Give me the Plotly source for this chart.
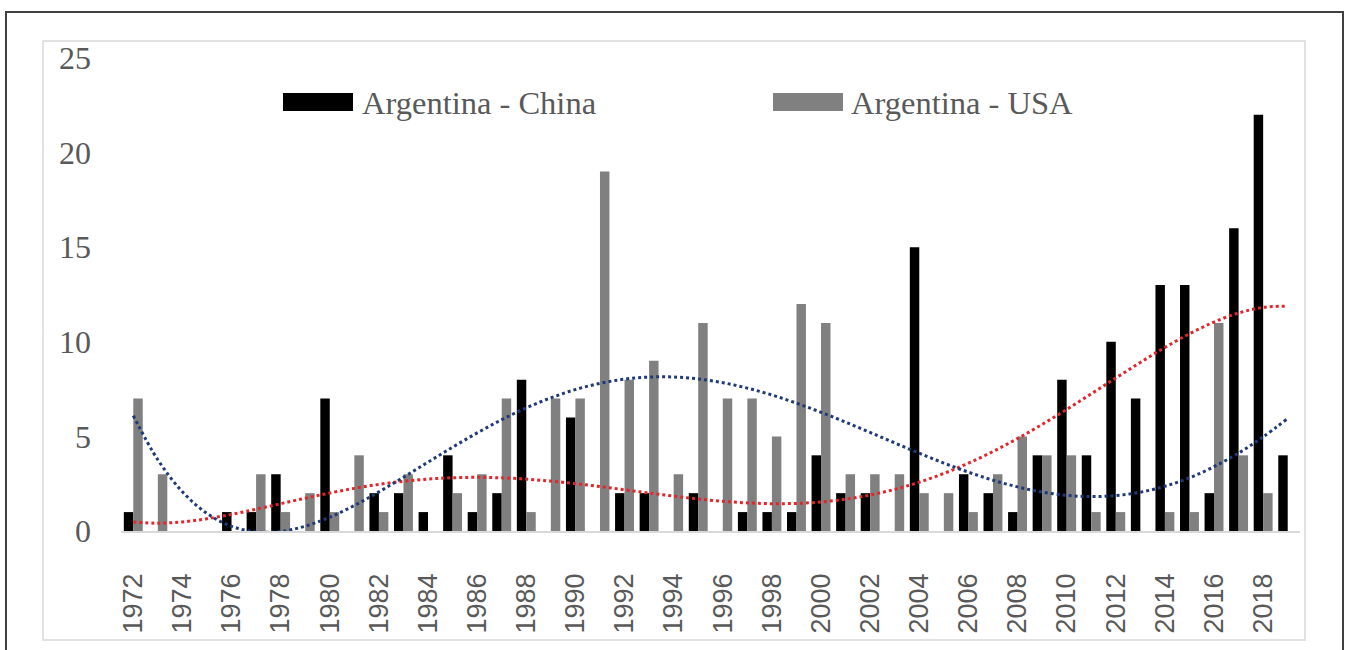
import numpy as np
import plotly.graph_objects as go

years = list(range(1972, 2020))
china = [1, 0, 0, 0, 1, 1, 3, 0, 7, 0, 2, 2, 1, 4, 1, 2, 8, 0, 6, 0, 2, 2, 0, 2,
         0, 1, 1, 1, 4, 2, 2, 0, 15, 0, 3, 2, 1, 4, 8, 4, 10, 7, 13, 13, 2, 16, 22, 4]
# None = no value recorded (2019 not available for USA)
usa = [7, 3, 0, 0, 0, 3, 1, 2, 1, 4, 1, 3, 0, 2, 3, 7, 1, 7, 7, 19, 8, 9, 3, 11,
       7, 7, 5, 12, 11, 3, 3, 3, 2, 2, 1, 3, 5, 4, 4, 1, 1, 0, 1, 1, 11, 4, 2, None]
tick_years = list(range(1972, 2019, 2))
y_ticks = [0, 5, 10, 15, 20, 25]
series_names = ["Argentina - China", "Argentina - USA"]
trend_degree = 5  # polynomial trendlines, as in the source spreadsheet chart

W, H = 1347, 650
L, R, T, B = 121, 1300, 58, 531


def px(x):
    return (x - L) / (R - L)


def py(y):
    return (B - y) / (B - T)


def trend(vals, deg):
    idx = np.arange(1, len(vals) + 1)
    pts = [(i, v) for i, v in zip(idx, vals) if v is not None]
    xs = np.array([p[0] for p in pts], dtype=float)
    ys = np.array([p[1] for p in pts], dtype=float)
    return np.polyval(np.polyfit(xs, ys, deg), idx)


fig = go.Figure()
fig.add_bar(x=years, y=china, name=series_names[0], marker_color="#000000",
            marker_line_width=0, showlegend=False)
fig.add_bar(x=years, y=usa, name=series_names[1], marker_color="#808080",
            marker_line_width=0, showlegend=False)
fig.add_scatter(x=years, y=trend(china, trend_degree), mode="lines",
                name="Poly. (" + series_names[0] + ")",
                line=dict(color="#e3262b", width=3, dash="dot", shape="spline"),
                showlegend=False, hoverinfo="skip")
fig.add_scatter(x=years, y=trend(usa, trend_degree), mode="lines",
                name="Poly. (" + series_names[1] + ")",
                line=dict(color="#1f3a78", width=3, dash="dot", shape="spline"),
                showlegend=False, hoverinfo="skip")

shapes = [
    dict(type="rect", xref="paper", yref="paper", x0=px(6), x1=px(1343), y0=py(670), y1=py(12),
         line=dict(color="#404040", width=2), layer="below"),
    dict(type="rect", xref="paper", yref="paper", x0=px(43), x1=px(1305), y0=py(640), y1=py(41),
         line=dict(color="#d9d9d9", width=1.5), layer="below"),
    dict(type="rect", xref="paper", yref="paper", x0=px(283), x1=px(353), y0=py(111), y1=py(93),
         fillcolor="#000000", line=dict(width=0)),
    dict(type="rect", xref="paper", yref="paper", x0=px(773), x1=px(843), y0=py(111), y1=py(93),
         fillcolor="#808080", line=dict(width=0)),
]
annotations = [
    dict(text=series_names[0], xref="paper", yref="paper", x=px(360), y=py(103), xanchor="left",
         yanchor="middle", showarrow=False, font=dict(family="Liberation Serif", size=32.5, color="#595959")),
    dict(text=series_names[1], xref="paper", yref="paper", x=px(849), y=py(103), xanchor="left",
         yanchor="middle", showarrow=False, font=dict(family="Liberation Serif", size=32.5, color="#595959")),
]

fig.update_layout(
    width=W, height=H,
    margin=dict(l=L, r=W - R, t=T, b=H - B, pad=0, autoexpand=False),
    paper_bgcolor="white", plot_bgcolor="white",
    barmode="group", bargap=0.23, bargroupgap=0,
    shapes=shapes, annotations=annotations,
    xaxis=dict(range=[1971.5, 2019.5], tickvals=tick_years, ticktext=[str(y) for y in tick_years],
               tickangle=-90, showgrid=False, zeroline=False, showline=True, linecolor="#d9d9d9",
               linewidth=1.5, ticks="", ticklabelstandoff=30, automargin=False,
               tickfont=dict(family="Liberation Sans", size=27, color="#595959")),
    yaxis=dict(range=[0, 25], tickvals=y_ticks, showgrid=False, zeroline=False,
               showline=False, ticks="", ticklabelstandoff=29, automargin=False,
               tickfont=dict(family="Liberation Serif", size=32, color="#595959")),
)

fig.write_html("out.html", config={"displayModeBar": False},
               post_script="document.body.style.margin='0';document.body.style.overflow='hidden';")
